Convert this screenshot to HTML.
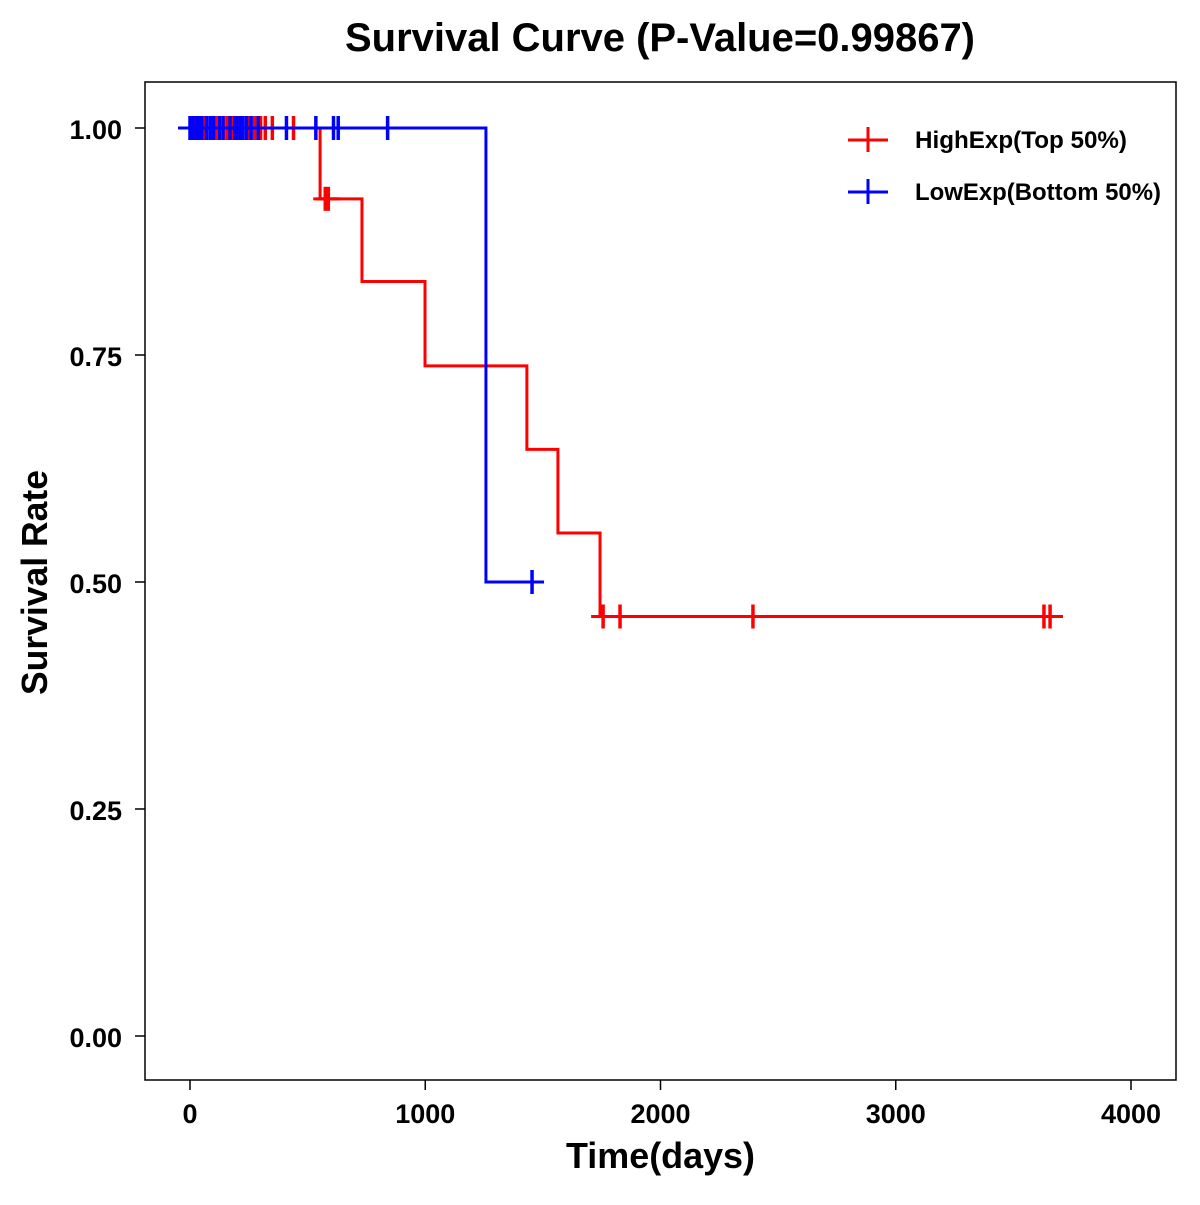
<!DOCTYPE html>
<html><head><meta charset="utf-8"><style>
body{margin:0;background:#fff}
svg text{font-family:"Liberation Sans",Arial,sans-serif;font-weight:bold}
</style></head><body>
<svg id="chart" width="1200" height="1200" viewBox="0 0 1200 1200">
<rect x="0" y="0" width="1200" height="1200" fill="#fff"/>
<text x="345" y="51" font-size="40" textLength="630" lengthAdjust="spacingAndGlyphs">Survival Curve (P-Value=0.99867)</text>
<rect x="145" y="82" width="1031" height="998" fill="none" stroke="#000" stroke-width="1.5"/>
<g id="axes"></g>
<g id="series"></g>
<text x="566" y="1168" font-size="36" textLength="189" lengthAdjust="spacingAndGlyphs">Time(days)</text>
<text transform="translate(47,695) rotate(-90)" font-size="36" textLength="225" lengthAdjust="spacingAndGlyphs">Survival Rate</text>
<g>
<g>
<line x1="848" y1="140" x2="888" y2="140" stroke="#f00" stroke-width="3"/><line x1="868" y1="127" x2="868" y2="152" stroke="#f00" stroke-width="3"/>
<text x="915" y="148" font-size="24" textLength="212" lengthAdjust="spacingAndGlyphs">HighExp(Top 50%)</text></g>
<g>
<line x1="848" y1="192" x2="888" y2="192" stroke="#00f" stroke-width="3"/><line x1="868" y1="179" x2="868" y2="204" stroke="#00f" stroke-width="3"/>
<text x="915" y="200" font-size="24" textLength="246" lengthAdjust="spacingAndGlyphs">LowExp(Bottom 50%)</text></g>
</g>
</svg>
<script>
const xTicks=[0,1000,2000,3000,4000];
const yTicks=[0,0.25,0.5,0.75,1];
const yTickLabels=["0.00","0.25","0.50","0.75","1.00"];
const highTimes=[0,553,731,999,1432,1564,1743,3711];
const highSurv=[1,0.922,0.831,0.738,0.646,0.554,0.462,0.462];
const highCensorT=[5,20,40,60,95,110,145,160,180,210,250,275,300,320,350,440,575,588,1756,1828,2393,3630,3656];
const highCensorS=[1,1,1,1,1,1,1,1,1,1,1,1,1,1,1,1,0.922,0.922,0.462,0.462,0.462,0.462,0.462];
const lowTimes=[-50,1258,1480];
const lowSurv=[1,0.5,0.5];
const lowCensorT=[0,10,25,35,50,70,85,100,125,140,170,190,200,215,225,240,260,290,410,535,610,630,840,1454];
const lowCensorS=[1,1,1,1,1,1,1,1,1,1,1,1,1,1,1,1,1,1,1,1,1,1,1,0.5];
const X=d=>190+d*0.23525, Y=s=>1036-s*908;
const NS="http://www.w3.org/2000/svg";
function mk(tag,attrs,parent){const e=document.createElementNS(NS,tag);for(const k in attrs)e.setAttribute(k,attrs[k]);parent.appendChild(e);return e;}
const ax=document.getElementById('axes'), se=document.getElementById('series');
xTicks.forEach(t=>{
 const l=mk('line',{x1:X(t),x2:X(t),y1:1080,y2:1090,stroke:'#000','stroke-width':1.5},ax);
 
 
 const tx=mk('text',{x:X(t),y:1123,'font-size':27,'text-anchor':'middle'},ax);tx.textContent=t;
 
 
});
yTicks.forEach((t,i)=>{
 const l=mk('line',{x1:135,x2:145,y1:Y(t),y2:Y(t),stroke:'#000','stroke-width':1.5},ax);
 
 
 const tx=mk('text',{x:122,y:Y(t)+11,'font-size':27,'text-anchor':'end'},ax);tx.textContent=yTickLabels[i];
 
 
});
function draw(times,surv,ct,cs,color,name){
 let d='M'+X(times[0])+','+Y(surv[0]);
 for(let i=1;i<times.length;i++){d+=' H'+X(times[i])+' V'+Y(surv[i]);}
 const p=mk('path',{d:d,fill:'none',stroke:color,'stroke-width':3},se);
 
 
 ct.forEach((t,i)=>{
  const g=mk('g',{},se);
  
  
  mk('line',{x1:X(t),x2:X(t),y1:Y(cs[i])-12,y2:Y(cs[i])+12,stroke:color,'stroke-width':3.5},g);
  mk('line',{x1:X(t)-12,x2:X(t)+12,y1:Y(cs[i]),y2:Y(cs[i]),stroke:color,'stroke-width':3},g);
 });
}
draw(highTimes,highSurv,highCensorT,highCensorS,'#f00','high-exp');
draw(lowTimes,lowSurv,lowCensorT,lowCensorS,'#00f','low-exp');
</script>
</body></html>
